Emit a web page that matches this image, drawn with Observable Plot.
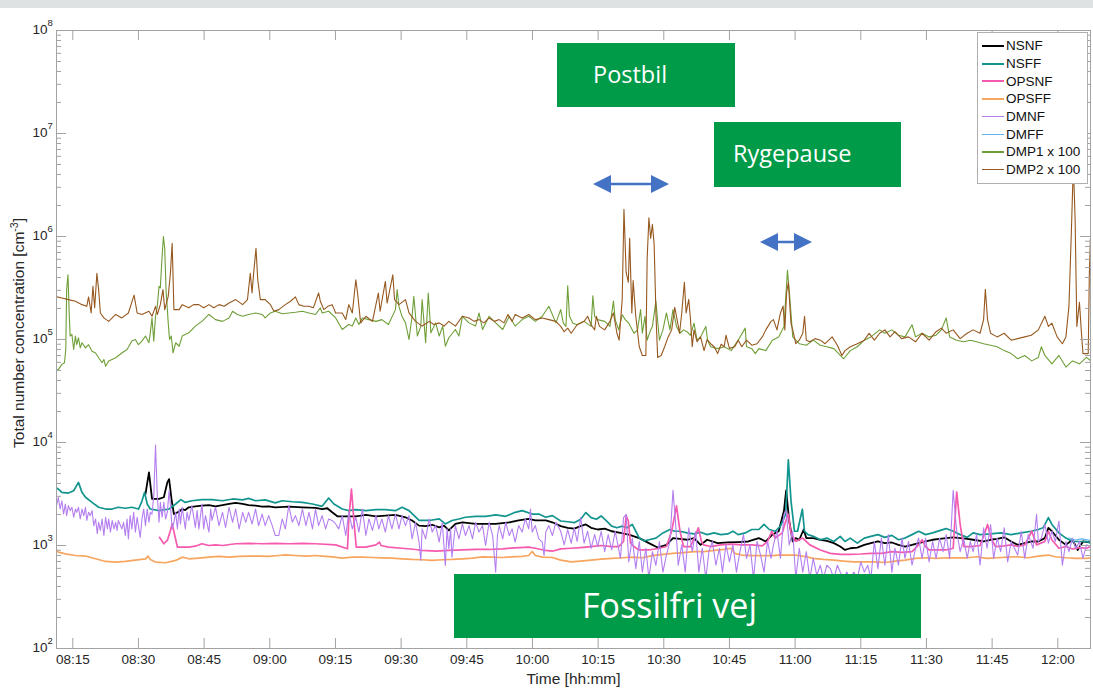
<!DOCTYPE html>
<html>
<head>
<meta charset="utf-8">
<script src="https://cdn.jsdelivr.net/npm/d3@7"></script>
<script src="https://cdn.jsdelivr.net/npm/@observablehq/plot@0.6"></script>
<style>
html,body{margin:0;padding:0;background:#fff}
body{width:1093px;height:691px;overflow:hidden;position:relative;font-family:"Liberation Sans",Arial,sans-serif}
#chart svg{display:block}
#band{position:absolute;left:0;top:0;width:1093px;height:8px;background:#dfe2e2}
.box{position:absolute;background:#009b48;color:#fff;font-family:"Open Sans",sans-serif;display:flex;align-items:center;box-sizing:border-box;padding-bottom:3px;white-space:nowrap}
#legend{position:absolute;left:977px;top:32px;width:111px;height:152px;box-sizing:border-box;border:1px solid #b0b0b0;background:#fff;padding-top:4px;font-size:13.5px;color:#111}
#legend .row{height:17.7px;display:flex;align-items:center}
#legend .sw{display:block;width:22px;margin-left:4px;margin-right:2px;flex:none}
#arrows{position:absolute;left:0;top:0}
</style>
</head>
<body>
<div id="chart"></div>
<div id="band"></div>
<div class="box" style="left:557px;top:43px;width:178px;height:64px;padding-left:36px;font-size:23.5px">Postbil</div>
<div class="box" style="left:714px;top:122px;width:187px;height:65px;padding-left:19px;font-size:23.5px">Rygepause</div>
<div class="box" style="left:454px;top:574px;width:467px;height:64px;padding-left:128px;font-size:34px">Fossilfri vej</div>
<div id="legend"></div>
<svg id="arrows" width="1093" height="691"></svg>
<script>
// ---- axis ticks (minutes after 08:00) ----
const xTicks = [15,30,45,60,75,90,105,120,135,150,165,180,195,210,225,240];
const xTickLabels = ["08:15","08:30","08:45","09:00","09:15","09:30","09:45","10:00","10:15","10:30","10:45","11:00","11:15","11:30","11:45","12:00"];
const yMajor = [1e2,1e3,1e4,1e5,1e6,1e7,1e8];
const yMinorFactors = [2,3,4,5,6,7,8,9];
const seriesNames = ["NSNF","NSFF","OPSNF","OPSFF","DMNF","DMFF","DMP1 x 100","DMP2 x 100"];

// ---- data: [minutes after 08:00, concentration cm^-3] ----
const nsnf = [[31.6,3160],[32.4,5130],[33.1,2830],[34.7,2830],[35.8,2940],[36.6,4100],[37.0,4410],[37.6,2720],[38.1,2020],[39.3,2130],[40.0,2260],[40.7,2210],[41.5,2350],[43.0,2400],[44.5,2440],[46.1,2470],[47.6,2400],[49.2,2470],[50.7,2530],[52.2,2590],[53.8,2530],[55.15,2470],[56.75,2440],[58.25,2380],[59.75,2400],[61.25,2350],[64.35,2380],[67.45,2350],[70.45,2320],[71.95,2260],[73.15,2300],[74.25,2100],[75.45,1920],[77.35,1920],[79.65,1920],[81.95,1980],[84.25,1920],[86.4,1950],[88.7,1980],[91.0,1880],[92.5,1750],[94.1,1560],[95.6,1540],[97.1,1590],[98.7,1500],[99.8,1560],[100.9,1400],[102.4,1620],[104.0,1680],[107.0,1620],[109.3,1620],[111.6,1620],[114.7,1680],[116.85,1750],[119.15,1810],[120.65,1750],[123.05,1750],[124.55,1680],
[126.45,1540],[128.05,1485],[129.55,1460],[131.0,1540],[132.2,1600],[133.4,1485],[134.9,1430],[136.5,1460],[138.1,1375],[140.1,1325],[142.0,1275],[144.4,1180],[146.6,1054],[148.6,955],[150.6,1014],[152.1,1180],[153.7,1160],[155.3,1137],[156.9,1180],[158.4,1014],[159.9,1137],[162.3,1054],[164.6,1070],[167.0,1080],[169.3,1094],[171.7,1180],[173.3,1094],[174.8,1275],[176.25,1375],[177.45,2170],[177.95,3430],[178.65,1730],[179.45,1094],[180.15,1180],[180.95,1137],[181.95,1430],[182.55,1180],[184.15,1180],[185.75,1137],[187.25,1110],[188.85,1054],[190.3,977],[191.4,905],[192.6,940],[194.2,955],[195.8,1014],[197.3,1054],[198.9,1094],[200.5,1054],[202.1,1070],[203.6,1014],[205.1,977],[206.7,1014],[208.2,1054],[209.8,1094],[211.4,1137],[213.0,1160],[214.5,1180],[216.1,1200],[217.7,1180],[219.3,1160],[220.65,1137],[223.05,1094],[224.65,1137],[226.15,1160],[227.75,1200],[229.35,1094],[230.85,1014],[232.45,1054],[234.05,1094],[235.55,1094],[237.05,1180],[237.85,1485],[238.65,1375],[240.25,1137],[241.85,1014],[243.35,1137],[244.55,905],[245.75,1094],[247.55,1070]];

const nsff = [[11.0,3670],[11.7,3530],[12.5,3280],[14.0,3230],[15.2,3400],[16.3,4100],[17.1,3280],[17.9,2940],[19.4,2620],[20.9,2350],[22.5,2260],[24.0,2260],[25.4,2350],[27.0,2300],[28.5,2350],[30.0,2260],[30.7,2620],[31.4,3280],[32.0,2530],[32.7,2260],[34.7,2180],[37.0,2260],[38.5,2530],[39.7,2790],[40.7,2620],[42.2,2720],[44.5,2790],[46.8,2790],[49.2,2720],[51.5,2830],[53.8,2770],[55.15,2870],[56.75,2720],[58.95,2770],[61.25,2590],[62.85,2720],[65.15,2660],[67.45,2620],[69.75,2530],[71.95,2400],[73.45,2890],[74.65,2530],[76.55,2260],[78.05,2180],[79.65,2230],[81.95,2180],[84.25,2230],[86.4,2230],[88.7,2180],[90.2,2350],[91.8,2180],[94.1,1750],[96.4,1750],[98.7,1810],[100.1,1620],[101.6,1750],[103.2,1810],[104.7,1880],[107.0,1920],[109.3,1920],[111.6,1980],[113.9,1920],[116.05,2100],[117.65,2180],[119.95,2020],[121.45,2020],[123.05,1880],[124.55,1950],
[126.45,1730],[128.05,1700],[129.55,1665],[131.0,1800],[132.2,2090],[133.4,1865],[134.6,1800],[135.7,1935],[136.9,1730],[138.1,1540],[139.3,1485],[140.5,1540],[141.6,1485],[142.8,1600],[143.6,1375],[144.4,1180],[145.5,1110],[146.6,1137],[148.2,1180],[149.8,1325],[151.4,1430],[152.5,1375],[153.7,1375],[155.3,1325],[156.9,1295],[158.4,1345],[159.9,1275],[161.5,1325],[163.0,1275],[164.6,1295],[165.8,1375],[167.0,1275],[168.6,1325],[170.1,1430],[171.7,1430],[172.9,1600],[174.1,1430],[175.45,1375],[176.65,1540],[177.85,2010],[178.45,6790],[179.05,2730],[179.85,1375],[180.55,1375],[181.65,2250],[182.15,1375],[182.95,1275],[184.15,1227],[185.75,1137],[187.25,1180],[188.85,1094],[190.3,1227],[191.4,1094],[192.6,1180],[194.2,1054],[195.8,1180],[197.3,1227],[198.9,1275],[200.5,1200],[202.1,1255],[203.6,1137],[205.1,1180],[206.7,1275],[208.2,1375],[209.8,1275],[211.4,1325],[213.0,1395],[214.5,1460],[216.1,1375],[217.7,1275],[219.3,1200],[220.65,1325],[222.25,1275],[224.65,1295],[226.95,1325],[229.35,1275],[231.65,1325],[233.95,1375],[235.55,1430],[236.65,1485],[237.85,1865],[238.65,1600],[240.25,1325],[241.85,1180],[243.35,1094],[244.95,1094],[246.55,1094],[247.55,1054]];

const opsnf = [[34.8,1200],[35.8,1040],[36.6,1120],[37.3,1400],[37.7,1620],[38.3,1250],[38.9,964],[40.0,964],[41.5,964],[43.0,985],[44.5,1040],[46.1,1000],[47.6,1015],[49.2,1000],[52.2,1040],[55.15,1050],[58.25,1040],[61.25,1050],[64.35,1040],[67.45,1050],[70.45,1040],[75.05,1015],[77.75,929],[78.05,1810],[78.65,3530],[79.25,1680],[79.75,964],[81.95,964],[84.25,1015],[85.05,1080],[85.4,1000],[87.1,964],[90.2,940],[93.3,915],[94.8,895],[97.9,880],[100.9,895],[104.0,905],[107.0,915],[110.1,915],[113.2,929],[116.05,950],[119.15,964],[120.65,940],[123.05,895],[124.55,880],
[126.45,926],[128.85,940],[131.0,955],[133.4,977],[135.7,1000],[138.1,977],[139.7,977],[140.8,1094],[141.4,1940],[141.9,1730],[142.4,1054],[143.2,977],[144.3,905],[146.6,905],[149.0,940],[150.6,977],[151.8,1375],[152.9,2430],[153.7,1375],[154.5,977],[156.1,977],[157.3,1275],[157.9,1485],[158.6,1094],[159.1,1014],[160.7,977],[163.0,1014],[165.4,1030],[167.8,1014],[170.1,1014],[172.5,990],[173.7,1094],[174.65,1375],[175.45,1180],[177.05,1325],[177.85,1730],[178.45,2010],[179.05,1325],[180.15,1094],[181.75,1180],[183.35,1014],[185.75,905],[188.05,839],[190.3,820],[192.6,820],[195.0,827],[197.3,839],[199.7,839],[202.1,871],[204.4,858],[206.7,871],[208.2,1014],[209.0,1137],[209.8,977],[210.6,905],[212.2,905],[214.5,905],[216.1,940],[216.9,3300],[217.7,1600],[218.5,977],[220.0,977],[222.25,1000],[223.45,1375],[223.95,1600],[224.75,1180],[225.75,977],[227.75,990],[229.35,1014],[230.85,977],[232.45,1014],[234.05,1375],[235.15,1014],[237.05,1094],[237.85,1375],[238.65,1137],[240.25,940],[241.85,977],[243.35,926],[244.95,955],[246.55,940],[247.55,977]];

const opsff = [[11.0,929],[11.7,862],[13.3,830],[15.6,800],[17.9,790],[20.2,743],[22.5,700],[24.8,690],[27.0,700],[29.3,720],[31.6,743],[32.2,790],[32.7,730],[33.9,690],[36.2,680],[38.5,716],[40.0,771],[41.5,743],[43.8,755],[46.1,771],[48.4,785],[50.7,771],[53.0,785],[55.15,790],[57.45,790],[59.75,785],[62.05,800],[63.55,812],[65.85,800],[68.25,790],[70.45,800],[71.95,790],[74.25,777],[76.55,755],[78.85,771],[81.15,771],[83.45,765],[85.6,760],[87.9,755],[90.2,743],[92.5,732],[94.8,727],[97.1,716],[99.5,727],[101.7,732],[104.0,743],[106.3,755],[108.6,777],[110.9,771],[113.2,765],[115.35,777],[117.65,785],[119.15,800],[119.95,875],[120.65,800],[122.25,771],[124.55,765],
[126.45,721],[128.85,694],[131.0,705],[133.4,721],[135.7,737],[138.1,749],[140.5,760],[142.8,772],[145.1,760],[147.4,796],[149.8,820],[152.1,839],[154.5,852],[156.9,871],[159.2,871],[161.5,898],[163.8,918],[165.4,940],[166.2,839],[167.8,808],[170.1,796],[172.5,796],[174.8,796],[176.25,808],[177.85,808],[180.15,808],[182.55,778],[184.15,749],[186.45,732],[188.85,721],[191.1,705],[193.4,694],[195.8,694],[198.1,694],[200.5,684],[202.8,705],[205.1,721],[207.5,749],[209.8,760],[212.2,749],[214.5,760],[216.9,760],[219.3,760],[221.45,778],[223.85,749],[226.15,760],[228.55,772],[230.85,778],[233.25,760],[235.55,790],[237.85,808],[239.45,778],[241.85,760],[244.15,749],[246.55,749],[247.55,760]];

const dmnf = [[11.0,3400],[11.3,2440],[11.7,2940],[12.1,2260],[12.5,2720],[12.9,2020],[13.3,2530],[13.6,1950],[14.0,2440],[14.4,2180],[14.8,2350],[15.2,1880],[15.6,2260],[15.9,2100],[16.3,2350],[16.7,1810],[17.1,2260],[17.5,1950],[17.9,2350],[18.2,1750],[18.6,2100],[19.0,1950],[19.4,2180],[19.8,1560],[20.2,1810],[20.6,1300],[20.9,1680],[21.3,1400],[21.7,1810],[22.1,1250],[22.5,1880],[22.9,1450],[23.2,1810],[23.6,1350],[24.0,1750],[24.4,1450],[24.8,1680],[25.1,1400],[25.4,1750],[26.2,1450],[26.6,1680],[27.0,1250],[27.4,1810],[27.7,1160],[28.1,1950],[28.5,1450],[28.9,2100],[29.3,1350],[29.7,1880],[30.4,1200],[30.8,1810],[31.2,2260],[31.6,1560],[32.0,2260],[32.4,1680],[32.7,2100],[33.1,2020],[33.5,3050],[33.9,9440],[34.3,3050],[34.7,1680],[35.0,2620],[35.4,1880],[35.8,2620],[36.2,1810],[36.6,2100],[37.0,3400],[37.3,2440],[37.7,1450],[38.1,1680],[38.5,2100],[38.9,1450],[39.3,2260],[39.6,1620],[40.0,2350],[40.7,1450],[41.1,2100],[41.5,1750],[42.2,2440],[43.0,1500],[43.4,2180],[43.8,1450],[44.5,2530],[44.9,1450],[45.3,1950],[46.1,1350],[46.5,2260],[46.8,1750],[47.6,2350],[48.4,1560],[49.2,2100],[49.9,1500],[50.7,2350],[51.5,1680],[52.2,2260],[53.0,1450],[53.8,2100],[54.5,1680],[55.15,2100],[55.95,1620],[56.75,2260],[57.45,1560],[58.25,2020],[58.95,1560],[59.75,1950],[60.55,1560],[61.25,1250],[62.05,1250],[62.85,1810],[63.55,1450],[64.35,2440],[65.15,1680],[65.85,1950],[66.65,1560],[67.45,2260],[68.25,1560],[68.95,2100],[69.75,1450],[70.45,2260],[71.15,1560],[71.95,1950],[72.75,1450],[73.45,1810],[74.25,1750],[75.05,1620],[75.75,1450],[76.55,1950],[77.35,1250],[78.05,2100],[78.85,1450],[79.65,1880],[80.35,1350],[81.15,2260],[81.95,1250],[82.65,1810],[83.45,1400],[84.25,1950],[84.9,1450],[85.6,1810],[86.4,1350],[87.1,1950],[87.9,1450],[88.7,2020],[89.5,1450],[90.2,1950],[91.0,1560],[91.8,1950],[92.5,1160],[93.3,1680],[94.1,1080],[94.5,716],[94.8,1450],[95.6,1160],[96.4,1810],[97.1,1350],[97.9,1560],[98.7,1080],[99.4,1680],[100.1,640],[100.5,1450],[100.9,929],[101.3,1450],[101.6,771],[102.4,1560],[103.2,1160],[104.0,1620],[104.7,1250],[105.5,1560],[106.3,1160],[107.0,1680],[107.8,1350],[108.6,1560],[109.3,1000],[110.1,1680],[110.9,1250],[111.6,552],[112.0,1250],[112.4,1560],[113.2,1160],[113.9,1680],[114.7,1250],[115.35,1450],[116.05,1080],[116.85,1560],[117.65,1350],[118.35,1810],[119.15,1450],[119.55,2260],[119.95,1350],[120.65,1560],[121.45,1160],[122.25,1080],[122.65,800],[123.05,1350],[123.75,1560],[124.55,1250],[125.35,1680],
[126.45,1375],[127.25,1014],[128.05,1430],[128.85,1054],[129.55,1485],[130.2,1094],[131.0,1865],[131.8,1054],[132.6,1375],[133.4,940],[134.2,1275],[134.9,977],[135.7,1375],[136.5,871],[137.3,1275],[138.1,905],[138.9,1375],[140.1,749],[140.8,1865],[141.4,2010],[142.0,694],[142.8,1180],[143.6,596],[144.4,1094],[145.1,552],[145.9,940],[146.6,475],[147.4,871],[148.2,643],[149.0,1094],[149.8,552],[150.6,808],[151.4,1094],[152.1,3430],[152.6,1865],[153.3,643],[154.1,1014],[154.9,552],[155.7,1485],[156.5,871],[157.3,1375],[158.0,552],[158.8,940],[159.6,475],[160.3,871],[161.1,1094],[161.9,643],[162.7,940],[163.4,552],[164.2,1014],[165.0,694],[165.8,1014],[166.6,552],[167.4,871],[168.2,1275],[168.9,749],[169.7,1014],[170.5,475],[171.3,1094],[172.1,808],[172.9,552],[173.7,1094],[174.5,749],[175.05,1014],[175.85,1375],[176.65,749],[177.45,2010],[177.95,2170],[178.65,1014],[179.45,1375],[180.15,475],[180.95,940],[181.75,552],[182.55,871],[183.35,475],[184.15,749],[184.95,512],[185.75,643],[186.45,475],[187.25,643],[188.05,596],[188.85,475],[189.65,643],[190.3,552],[191.1,475],[191.8,552],[192.6,457],[193.4,552],[194.2,475],[195.0,694],[195.8,552],[196.6,643],[197.3,475],[198.1,1094],[198.9,596],[199.7,1180],[200.5,643],[201.3,1275],[202.1,552],[202.8,940],[203.6,643],[204.4,1180],[205.1,749],[205.9,1094],[206.7,643],[207.5,940],[208.2,1180],[209.0,749],[209.8,1180],[210.6,694],[211.4,1094],[212.2,749],[213.0,1180],[213.8,871],[214.5,1275],[215.3,749],[216.1,3430],[216.9,1375],[217.7,871],[218.5,1180],[219.3,749],[220.0,1094],[220.65,871],[221.45,1275],[222.25,643],[223.05,1485],[223.85,940],[224.65,1600],[225.35,749],[226.15,1180],[226.95,871],[227.75,1485],[228.55,694],[229.35,1094],[230.85,808],[231.65,1375],[232.45,749],[233.25,1275],[234.35,940],[235.15,2010],[235.55,1094],[236.25,1180],[237.05,1600],[237.85,1054],[238.65,1375],[239.45,1094],[240.25,1730],[241.05,643],[241.85,1094],[242.55,871],[243.35,1180],[244.15,940],[244.95,1094],[245.75,749],[246.55,1014],[247.55,977]];

const dmff = [[242.5,1180],[244.0,1130],[245.5,1160],[247.5,1120]];

// DMP values as measured (plotted x 100)
const dmp1 = [[11.0,494],[11.7,510],[12.5,573],[13.1,595],[13.4,800],[13.6,3050],[13.9,4250],[14.2,1680],[14.4,1080],[14.8,1120],[15.2,800],[15.6,1080],[15.9,890],[16.3,1040],[16.7,830],[17.1,930],[17.9,830],[18.6,890],[19.4,770],[20.2,740],[20.9,665],[21.7,595],[22.1,640],[22.5,550],[23.2,617],[24.8,665],[26.2,740],[27.4,800],[28.5,965],[29.3,1000],[30.0,890],[30.8,965],[31.6,1080],[32.4,930],[32.7,1160],[33.1,1620],[33.5,965],[33.9,1680],[34.3,2100],[34.7,3280],[35.0,3170],[35.4,6400],[35.7,10000],[36.0,7700],[36.3,3050],[36.8,1450],[37.1,1000],[37.5,1080],[37.9,740],[38.5,930],[39.3,860],[40.0,1080],[41.5,1160],[43.0,1350],[44.5,1500],[46.1,1750],[47.6,1560],[49.2,1500],[50.7,1620],[51.5,1880],[52.6,1750],[53.8,1680],[55.15,1750],[56.75,1810],[58.25,1750],[58.95,1620],[60.15,1810],[61.25,1880],[62.85,1780],[64.35,1810],[65.85,1840],[67.45,1880],[68.95,1810],[70.45,1750],[71.55,2030],[71.95,1810],[73.45,1880],[75.05,1620],[76.55,1250],[78.05,1400],[78.85,1350],[79.65,1620],[80.35,1400],[81.15,1620],[82.65,1560],[84.25,1500],[85.6,1560],[87.1,1400],[88.7,1950],[89.1,3050],[89.5,2100],[90.2,1680],[91.0,1450],[91.8,1000],[92.5,1680],[92.9,2620],[93.7,1080],[94.5,1350],[94.8,2440],[95.6,930],[96.2,2830],[96.8,1160],[97.9,1450],[98.7,1080],[99.5,1350],[100.1,860],[100.9,1040],[102.4,1250],[103.2,1080],[104.0,1680],[105.5,1450],[107.0,1350],[107.8,1810],[108.6,1250],[110.1,1680],[111.6,1450],[113.2,1250],[114.7,1680],[116.05,1350],[117.65,1560],[119.15,1680],[120.65,1500],[122.25,1680],[123.75,2100],[125.35,1450],
[126.45,1950],[127.05,1440],[127.65,1340],[128.05,3330],[128.45,1680],[129.25,1440],[130.2,1390],[131.8,1500],[133.4,1340],[133.8,2650],[134.2,1680],[134.9,1560],[136.5,1500],[137.7,1340],[138.5,2360],[138.9,1560],[139.7,1240],[140.5,1740],[141.2,1560],[142.0,1440],[143.2,1150],[144.0,1240],[144.7,1950],[145.1,1150],[145.7,1680],[146.2,985],[147.0,1240],[147.4,1340],[148.2,2360],[149.0,985],[149.8,1240],[150.6,1810],[151.4,1240],[152.1,1950],[152.9,1340],[153.7,1150],[154.5,1240],[155.3,1190],[156.1,1100],[156.9,1440],[157.6,985],[158.4,1060],[159.6,1340],[160.0,985],[160.7,850],[162.3,815],[163.8,850],[165.4,780],[167.0,985],[168.6,1290],[168.9,850],[170.1,815],[170.9,730],[171.7,815],[173.3,780],[174.8,985],[176.25,1060],[177.45,1340],[178.25,4690],[178.75,2650],[179.45,1060],[180.95,910],[182.55,880],[184.15,985],[185.75,880],[187.25,850],[188.85,815],[191.1,650],[192.6,780],[194.2,850],[195.8,985],[197.3,1060],[199.3,1240],[200.5,1150],[202.1,1240],[203.6,1100],[205.1,1060],[206.7,1390],[207.5,1060],[209.0,1150],[210.6,1060],[212.2,1100],[213.4,1240],[214.5,1620],[215.3,1060],[216.9,985],[218.5,950],[220.0,985],[221.45,950],[223.05,910],[224.65,880],[226.15,850],[227.75,780],[229.35,730],[230.85,650],[232.45,700],[234.05,620],[235.55,670],[236.25,850],[237.05,700],[238.65,580],[240.25,700],[241.85,540],[243.35,620],[244.95,580],[246.55,670],[247.55,620]];

const dmp2 = [[11.0,2620],[12.5,2530],[14.0,2440],[15.6,2350],[17.1,2180],[18.2,2100],[18.6,2590],[19.2,1810],[19.6,3280],[20.0,2030],[20.5,4400],[20.9,3050],[21.3,1810],[22.1,1620],[23.2,1500],[24.8,1750],[26.2,1620],[27.7,1810],[29.0,2700],[29.7,1810],[30.8,1750],[32.4,1880],[33.1,1680],[33.9,2100],[34.3,1750],[35.0,2180],[35.6,3050],[36.0,1950],[36.8,2620],[37.3,4400],[37.7,8600],[38.1,1950],[39.3,1950],[40.0,2180],[41.5,2030],[42.6,2180],[43.8,2180],[44.9,2030],[46.1,2180],[47.2,2030],[48.4,2180],[49.6,2100],[50.7,2260],[52.2,2440],[53.8,2180],[54.9,2440],[55.55,4400],[55.95,2830],[56.25,4100],[56.85,7700],[57.25,3800],[57.85,2440],[58.95,2440],[60.15,2180],[60.95,1880],[62.05,1950],[63.55,2180],[64.75,2350],[65.85,2590],[66.65,2180],[67.75,2100],[68.95,2100],[69.95,2030],[71.15,2830],[71.55,2350],[72.35,1950],[73.25,2100],[74.25,2180],[75.05,1810],[76.55,1810],[77.35,1560],[78.05,2180],[78.85,1810],[79.65,3800],[80.05,2830],[80.75,1450],[81.95,1680],[83.45,1500],[84.8,2830],[85.2,1880],[86.4,3660],[86.8,2260],[88.1,4250],[88.5,2440],[89.5,2180],[91.0,2440],[91.8,1810],[93.3,1500],[94.8,1350],[96.4,1500],[97.5,1400],[98.7,1450],[99.8,1350],[100.9,1500],[102.4,1350],[104.0,1680],[105.5,1620],[106.7,1500],[107.8,1560],[108.9,1450],[110.1,1620],[111.3,1500],[112.4,1560],[113.5,1450],[114.4,1750],[115.35,1500],[116.05,1750],[117.65,1620],[119.15,1750],[120.65,1560],[122.25,1620],[123.75,1560],[125.35,1500],
[126.45,1340],[127.25,1190],[128.05,1290],[128.85,1150],[130.2,1390],[131.8,1500],[132.6,1680],[133.4,1390],[134.2,1240],[134.6,1680],[135.3,1340],[136.5,1240],[137.7,1500],[138.5,1810],[139.3,1150],[139.8,985],[140.5,2450],[140.9,18400],[141.4,4500],[141.9,3590],[142.2,9600],[142.7,1810],[143.0,3730],[143.6,1680],[144.4,850],[145.1,700],[145.9,700],[146.2,6100],[146.6,15200],[147.0,9600],[147.4,13100],[147.8,8300],[148.2,1810],[148.6,670],[149.4,700],[150.2,850],[151.0,1060],[151.8,1240],[152.5,2050],[152.9,1680],[153.6,1150],[154.1,1810],[154.7,3590],[155.1,1810],[155.7,2450],[156.1,1560],[156.5,850],[156.9,1240],[157.6,950],[158.4,1060],[159.2,780],[159.9,1000],[160.7,910],[161.5,850],[162.3,730],[163.1,900],[163.8,850],[164.2,1100],[165.0,820],[166.2,850],[167.0,985],[167.8,850],[168.9,985],[170.1,880],[171.3,910],[172.5,1060],[173.3,1240],[174.5,1500],[175.05,1560],[175.85,1240],[176.65,1810],[177.25,2110],[177.65,1240],[178.05,2860],[178.45,3590],[179.05,1440],[179.45,1240],[180.15,910],[180.95,985],[181.75,1150],[182.15,1680],[182.55,985],[183.35,950],[184.55,1020],[185.75,985],[186.85,910],[188.45,1060],[189.65,880],[190.7,700],[191.4,780],[192.6,850],[194.2,910],[195.8,985],[196.9,1150],[198.1,985],[199.3,1150],[200.5,1240],[201.7,1060],[202.8,1190],[204.3,1020],[205.9,1060],[207.5,950],[209.0,1150],[210.6,985],[212.2,1190],[213.4,1290],[214.5,1150],[216.1,1240],[217.7,1020],[219.3,1150],[220.65,1240],[222.25,1150],[223.05,1560],[223.45,3080],[223.95,1560],[224.65,1150],[226.15,1060],[227.75,1150],[229.35,985],[230.85,1020],[232.45,1060],[233.95,1100],[235.55,1240],[237.05,1680],[237.85,1340],[238.65,1440],[239.85,1060],[241.05,910],[241.85,1060],[242.55,2110],[243.15,13100],[243.55,50000],[243.95,15000],[244.35,1340],[244.95,2300],[245.35,1240],[245.75,730],[246.95,730],[247.2,4200],[247.45,9600]];

// ---- styling (kept apart from data) ----
const styles = {
  "NSNF": {data: nsnf, color: "#000000", width: 1.8, factor: 1},
  "NSFF": {data: nsff, color: "#13958f", width: 1.7, factor: 1},
  "OPSNF": {data: opsnf, color: "#f55aae", width: 1.7, factor: 1},
  "OPSFF": {data: opsff, color: "#f8a65f", width: 1.7, factor: 1},
  "DMNF": {data: dmnf, color: "#b47ef0", width: 1.1, factor: 1},
  "DMFF": {data: dmff, color: "#62b4ee", width: 1.1, factor: 1},
  "DMP1 x 100": {data: dmp1, color: "#6f9f38", width: 1.1, factor: 100},
  "DMP2 x 100": {data: dmp2, color: "#97581f", width: 1.1, factor: 100}
};
const axisColor = "#a3a3a3";
const yMinor = yMajor.slice(0, -1).flatMap(d => yMinorFactors.map(k => k * d));

const chart = Plot.plot({
  width: 1093, height: 691,
  marginTop: 30, marginBottom: 43, marginLeft: 56, marginRight: 3,
  style: {fontFamily: "'Liberation Sans', Arial, sans-serif", fontSize: "13.5px", color: "#262626", background: "transparent", overflow: "visible"},
  x: {type: "linear", domain: [11.28, 247.47], axis: null},
  y: {type: "log", domain: [1e2, 1e8], axis: null},
  marks: [
    ...seriesNames.map(n => {
      const s = styles[n];
      return Plot.line(s.data, {x: d => d[0], y: d => d[1] * s.factor, stroke: s.color, strokeWidth: s.width, clip: true, strokeLinejoin: "round"});
    }),
    Plot.frame({stroke: axisColor}),
    Plot.ruleX(xTicks, {x: d => d, insetTop: 608, stroke: axisColor}),
    Plot.ruleX(xTicks, {x: d => d, insetBottom: 608, stroke: axisColor}),
    Plot.ruleY(yMajor, {y: d => d, insetRight: 1024, stroke: axisColor}),
    Plot.ruleY(yMajor, {y: d => d, insetLeft: 1024, stroke: axisColor}),
    Plot.ruleY(yMinor, {y: d => d, insetRight: 1029, stroke: axisColor}),
    Plot.ruleY(yMinor, {y: d => d, insetLeft: 1029, stroke: axisColor}),
    Plot.text(xTicks, {x: d => d, frameAnchor: "bottom", text: d => xTickLabels[xTicks.indexOf(d)], lineAnchor: "top", dy: 6, fontSize: 13.5, fill: "#262626"}),
    Plot.text(yMajor, {y: d => d, frameAnchor: "left", text: () => "10", textAnchor: "end", dx: -9, dy: -1, fontSize: 13.5, fill: "#262626"}),
    Plot.text(yMajor, {y: d => d, frameAnchor: "left", text: d => String(Math.round(Math.log10(d))), textAnchor: "start", dx: -9, dy: -8, fontSize: 9.5, fill: "#262626"}),
    Plot.text(["Time [hh:mm]"], {frameAnchor: "bottom", text: d => d, lineAnchor: "top", dy: 24, fontSize: 15.5, fill: "#262626"})
  ]
});
document.getElementById("chart").appendChild(chart);

// y-axis title with superscript
const svg = d3.select(chart);
const yl = svg.append("text")
  .attr("transform", "translate(24,333) rotate(-90)")
  .attr("text-anchor", "middle")
  .attr("fill", "#262626")
  .attr("font-size", 15.5)
  .attr("font-family", "'Liberation Sans', Arial, sans-serif");
yl.append("tspan").text("Total number concentration [cm");
yl.append("tspan").attr("dy", -6).attr("font-size", 10.5).text("-3");
yl.append("tspan").attr("dy", 6).text("]");

// legend
const lg = d3.select("#legend");
seriesNames.forEach(n => {
  const s = styles[n];
  const row = lg.append("div").attr("class", "row");
  row.append("span").attr("class", "sw")
    .style("height", `${s.width >= 1.5 ? 2 : 1.3}px`)
    .style("background-color", s.color);
  row.append("span").text(n);
});

// double arrows (annotations)
const ar = d3.select("#arrows");
function dbl(x1, x2, y) {
  const hl = 18, hh = 9, sw = 1.3;
  ar.append("polygon").attr("fill", "#4472c4").attr("points", [
    [x1, y], [x1 + hl, y - hh], [x1 + hl, y - sw], [x2 - hl, y - sw], [x2 - hl, y - hh], [x2, y],
    [x2 - hl, y + hh], [x2 - hl, y + sw], [x1 + hl, y + sw], [x1 + hl, y + hh]
  ].map(p => p.join(",")).join(" "));
}
dbl(593, 669, 184);
dbl(760, 812, 242);
</script>
</body>
</html>
